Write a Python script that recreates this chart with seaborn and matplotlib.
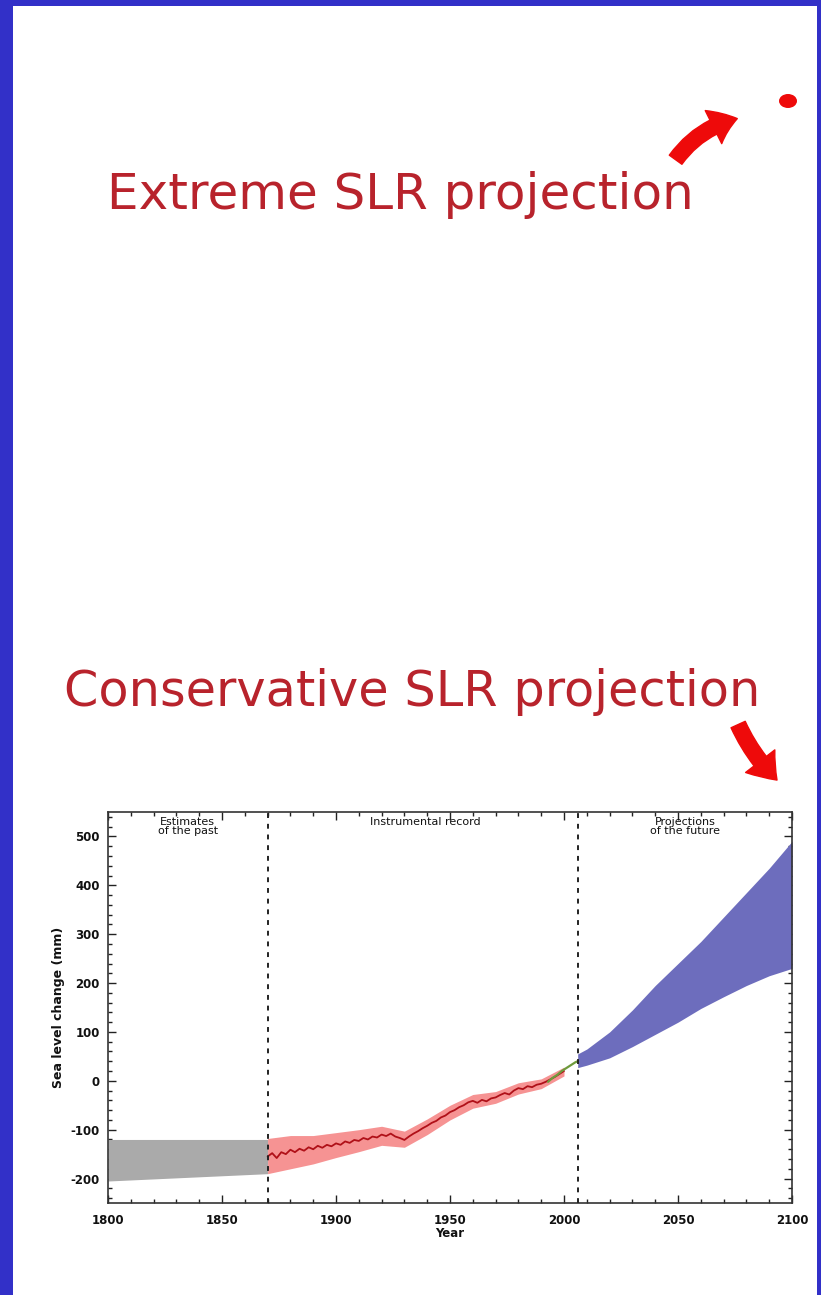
import numpy as np
import pandas as pd
import matplotlib
matplotlib.use("Agg")
import matplotlib.pyplot as plt
from matplotlib.patches import Rectangle, FancyArrowPatch, Ellipse
from matplotlib.ticker import MultipleLocator
import seaborn as sns

# --- data -------------------------------------------------------------
# Estimates of the past (grey uncertainty band)
past_years = [1800, 1870]
past_low = [-205, -190]
past_high = [-120, -120]

# Tide-gauge reconstruction (red line)
gauge_years = list(range(1870, 2001, 2))
gauge_level = [-155, -148, -158, -146, -150, -141, -146, -139, -143, -136,
               -140, -133, -137, -131, -134, -128, -131, -124, -127, -121,
               -123, -117, -120, -114, -116, -110, -113, -108, -114, -117,
               -121, -114, -108, -103, -97, -92, -86, -82, -75, -71,
               -64, -60, -54, -50, -44, -41, -45, -39, -42, -36,
               -34, -29, -25, -28, -20, -15, -17, -11, -13, -8,
               -6, -2, 3, 8, 14, 20]

# Range of variations around the reconstruction (red band)
band_years = [1870, 1880, 1890, 1900, 1910, 1920, 1930, 1940, 1950, 1960,
              1970, 1980, 1990, 2000]
band_low = [-190, -180, -170, -157, -145, -132, -136, -110, -80, -56,
            -46, -27, -16, 10]
band_high = [-118, -112, -112, -106, -100, -93, -103, -78, -50, -28,
             -22, -4, 4, 28]

# Satellite altimetry (green line)
sat_years = [1993, 1995, 1997, 1999, 2001, 2003, 2005, 2006]
sat_level = [-2, 6, 12, 20, 26, 32, 38, 40]

# Model projections (blue band)
proj_years = [2006, 2010, 2020, 2030, 2040, 2050, 2060, 2070, 2080, 2090, 2100]
proj_low = [27, 32, 47, 70, 95, 120, 148, 172, 195, 215, 230]
proj_high = [55, 65, 100, 145, 195, 240, 285, 335, 385, 435, 490]

period_edges = [1870, 2006]
x_ticks = [1800, 1850, 1900, 1950, 2000, 2050, 2100]
y_ticks = [-200, -100, 0, 100, 200, 300, 400, 500]

# --- figure -----------------------------------------------------------
sns.set_theme(style="ticks")
plt.rcParams["font.family"] = ["DejaVu Sans"]
plt.rcParams["axes.unicode_minus"] = False

W, H = 821, 1295
fig = plt.figure(figsize=(W / 100, H / 100), dpi=100)
fig.patch.set_facecolor("#3230c8")


def fx(px):
    return px / W


def fy(py):
    return 1 - py / H


# white slide area inside the blue frame
fig.add_artist(Rectangle((fx(13), 0), fx(817) - fx(13), fy(6), transform=fig.transFigure,
                         facecolor="white", edgecolor="none", zorder=0))

title_color = "#b8232c"
fig.text(fx(107), fy(195), "Extreme SLR projection", fontsize=36.0, color=title_color,
         ha="left", va="center")
fig.text(fx(64), fy(692), "Conservative SLR projection", fontsize=35.6, color=title_color,
         ha="left", va="center")

arrow_red = "#ee0a0a"
# upward arrow toward the extreme projection
fig.add_artist(FancyArrowPatch((fx(674), fy(162)), (fx(740), fy(118)),
                               transform=fig.transFigure, connectionstyle="arc3,rad=-0.2",
                               arrowstyle="simple,head_length=1.3,head_width=1.9,tail_width=0.8",
                               mutation_scale=14, color=arrow_red, zorder=5))
fig.add_artist(Ellipse((fx(788), fy(101)), fx(18), 14 / H, transform=fig.transFigure,
                       facecolor=arrow_red, edgecolor="none", zorder=5))
# downward arrow toward the conservative projection
fig.add_artist(FancyArrowPatch((fx(737), fy(722)), (fx(779), fy(782)),
                               transform=fig.transFigure, connectionstyle="arc3,rad=0.1",
                               arrowstyle="simple,head_length=1.3,head_width=1.9,tail_width=0.8",
                               mutation_scale=14, color=arrow_red, zorder=5))

# --- sea level chart ----------------------------------------------------
ax = fig.add_axes([fx(108), fy(1203), fx(792) - fx(108), fy(812) - fy(1203)])
ax.set_facecolor("white")

ax.fill_between(past_years, past_low, past_high, color="#aaaaaa", linewidth=0, zorder=2)
ax.fill_between(band_years, band_low, band_high, color="#f58080", alpha=0.85,
                linewidth=0, zorder=2)
ax.fill_between(proj_years, proj_low, proj_high, color="#6d6dbd", linewidth=0, zorder=2)

gauge = pd.DataFrame({"year": gauge_years, "level": gauge_level})
sat = pd.DataFrame({"year": sat_years, "level": sat_level})
sns.lineplot(data=gauge, x="year", y="level", ax=ax, color="#b01018", linewidth=1.3, zorder=3)
sns.lineplot(data=sat, x="year", y="level", ax=ax, color="#6e9a3c", linewidth=1.6, zorder=3)

for xe in period_edges:
    ax.axvline(xe, color="#222222", linestyle=(0, (2.5, 3)), linewidth=1.4, zorder=4)

ax.set_xlim(1800, 2100)
ax.set_ylim(-250, 550)
ax.set_xticks(x_ticks)
ax.set_yticks(y_ticks)
ax.xaxis.set_minor_locator(MultipleLocator(10))
ax.yaxis.set_minor_locator(MultipleLocator(20))
ax.tick_params(which="both", direction="in", top=True, right=True, colors="#222222",
               labelcolor="#111111", labelsize=8.5)
ax.tick_params(which="major", length=6, width=1)
ax.tick_params(which="minor", length=3, width=1)
ax.tick_params(axis="x", pad=8)
ax.tick_params(axis="y", pad=6)
for lab in ax.get_xticklabels() + ax.get_yticklabels():
    lab.set_fontweight("bold")
for sp in ax.spines.values():
    sp.set_visible(True)
    sp.set_color("#333333")
    sp.set_linewidth(1.2)

ax.set_xlabel("Year", fontsize=8.5, fontweight="bold", labelpad=0, color="#111111")
ax.set_ylabel("Sea level change (mm)", fontsize=9, fontweight="bold", labelpad=4,
              color="#111111")

for xc, label in [(1835, "Estimates\nof the past"), (1939, "Instrumental record"),
                  (2053, "Projections\nof the future")]:
    ax.text(xc, 540, label, ha="center", va="top", fontsize=8, linespacing=0.85,
            color="#111111")

fig.savefig("out.png", dpi=100, facecolor=fig.get_facecolor())
